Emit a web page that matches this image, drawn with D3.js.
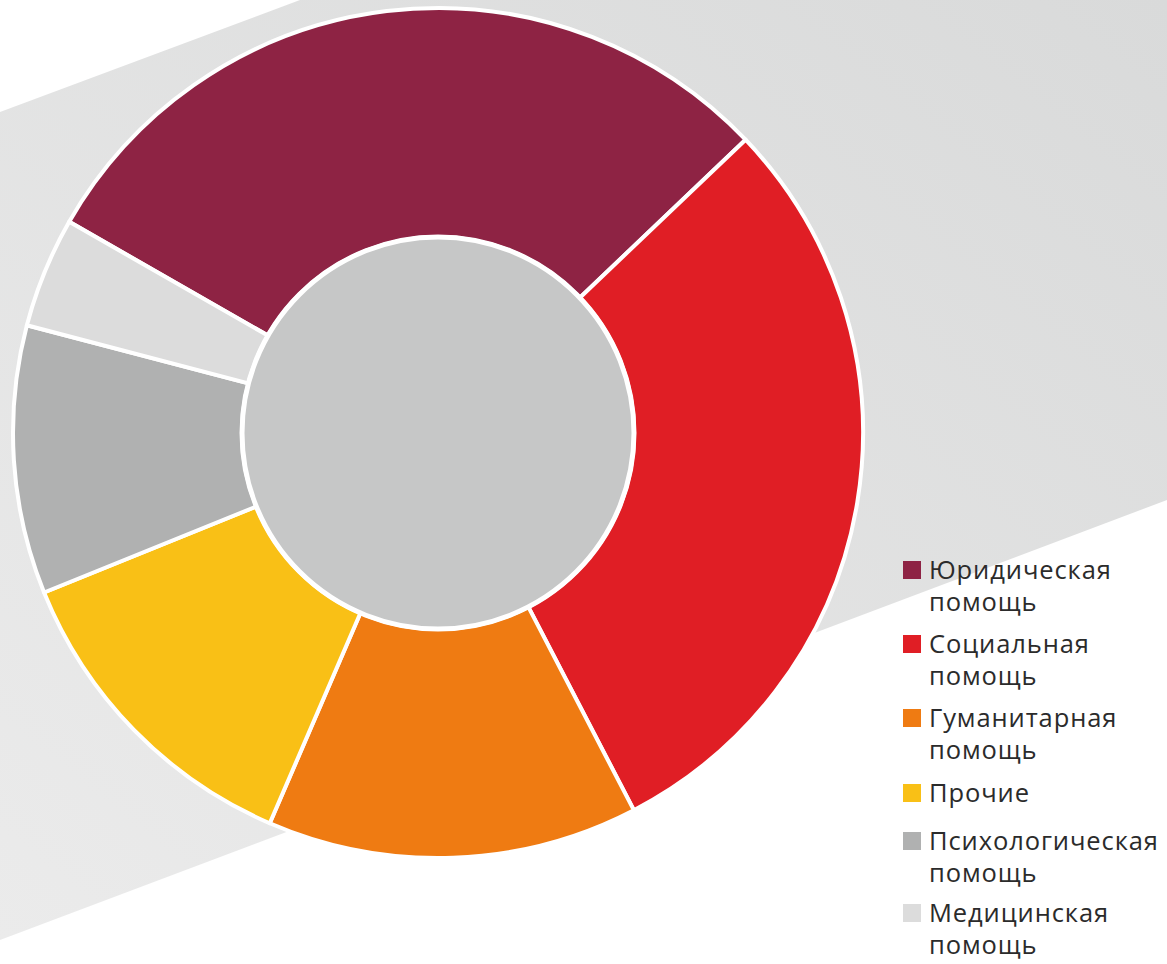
<!DOCTYPE html>
<html><head><meta charset="utf-8">
<script src="https://cdn.jsdelivr.net/npm/d3@7"></script>
<style>html,body{margin:0;padding:0;background:#fff;}svg{display:block;}</style>
</head><body>
<script>
const categories = ["Юридическая помощь","Социальная помощь","Гуманитарная помощь","Прочие","Психологическая помощь","Медицинская помощь"];
const values = [29.6, 29.5, 14.1, 12.4, 10.2, 4.2];
const colors = ["#8e2344","#e01e25","#ef7b12","#f9c016","#b0b1b1","#dcdcdc"];
const legendLines = [["Юридическая","помощь"],["Социальная","помощь"],["Гуманитарная","помощь"],["Прочие"],["Психологическая","помощь"],["Медицинская","помощь"]];

const W = 1167, H = 964;
const svg = d3.select("body").append("svg").attr("width", W).attr("height", H);
const defs = svg.append("defs");
const g1 = defs.append("linearGradient").attr("id","band").attr("x1","0").attr("y1","1").attr("x2","1").attr("y2","0");
g1.append("stop").attr("offset","0").attr("stop-color","#ebebeb");
g1.append("stop").attr("offset","1").attr("stop-color","#d9dada");

// background band
svg.append("path").attr("d","M0,112 L300,0 L1167,0 L1167,500 L0,940 Z").attr("fill","url(#band)");

const cx = 438, cy = 433, R = 425, r0 = 196;
const pie = d3.pie().sort(null).value(d => d)
  .startAngle(-60.2 * Math.PI/180).endAngle(-60.2 * Math.PI/180 + 2*Math.PI);
const arc = d3.arc().innerRadius(r0).outerRadius(R);
const g = svg.append("g").attr("transform", `translate(${cx},${cy})`);
g.selectAll("path.slice").data(pie(values)).join("path").attr("class","slice")
  .attr("d", arc).attr("fill", (d,i) => colors[i])
  .attr("stroke","#fff").attr("stroke-width",4).attr("stroke-linejoin","round");
g.append("circle").attr("r", r0).attr("fill","#c6c7c7").attr("stroke","#fff").attr("stroke-width",5);

// legend
const lg = svg.append("g").attr("font-family","'Open Sans', sans-serif").attr("font-size",25.5).attr("fill","#2b2b2b");
const baseY = [579, 653, 727, 802, 850, 922];
legendLines.forEach((lines, i) => {
  lg.append("rect").attr("x",903).attr("y",baseY[i]-18).attr("width",18).attr("height",18).attr("fill",colors[i]);
  lines.forEach((t, j) => {
    lg.append("text").attr("x",929).attr("y",baseY[i] + j*32).attr("letter-spacing",0.9).text(t);
  });
});
</script>
</body></html>
